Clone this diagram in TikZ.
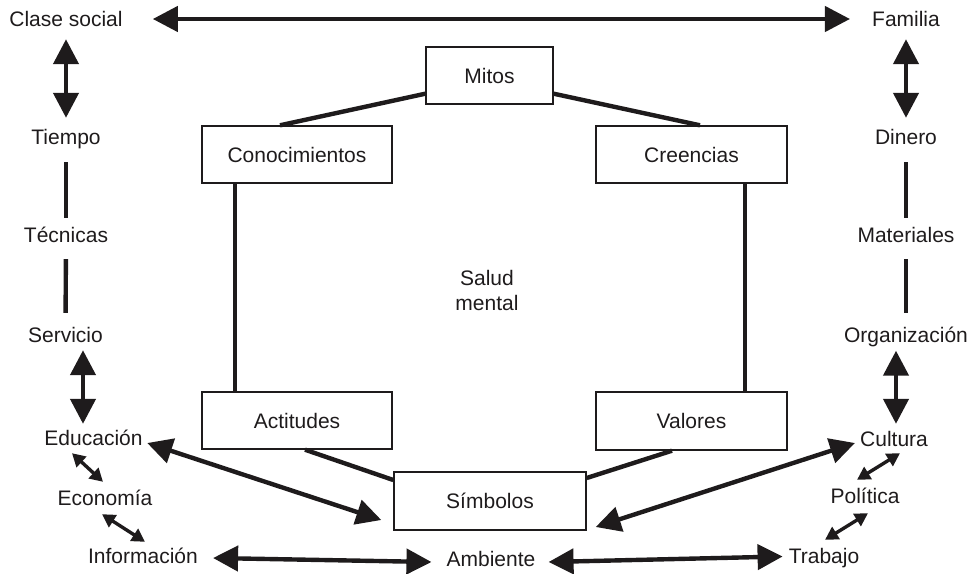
\documentclass[tikz,border=0pt]{standalone}
\usepackage{fontspec}
\setmainfont{Liberation Sans}
\usetikzlibrary{arrows.meta}
\definecolor{ink}{HTML}{1E1B1C}
\begin{document}
\begin{tikzpicture}[x=1pt,y=-1pt,
  lbl/.style={inner sep=0pt, text height=15pt, text depth=0pt, text=ink,
    font=\fontsize{21}{25}\selectfont},
  box/.style={lbl, draw=ink, line width=1.4pt, minimum width=190pt, minimum height=57pt},
  link/.style={draw=ink, line width=4.4pt},
  bigarrow/.style={link, {Triangle[length=25pt,width=25pt]}-{Triangle[length=25pt,width=25pt]}},
  smallarrow/.style={draw=ink, line width=3.4pt, {Triangle[length=13pt,width=14pt]}-{Triangle[length=13pt,width=14pt]}}
]
\useasboundingbox (0,0) rectangle (969,573);

% outer ring of factors, left column
\node[lbl] (clase)   at (66,19)    {Clase social};
\node[lbl] (tiempo)  at (66,136.5) {Tiempo};
\node[lbl] (tecnicas) at (66,235)  {Técnicas};
\node[lbl] (servicio) at (65.5,334.5) {Servicio};
\node[lbl] (educ)    at (93.5,438) {Educación};
\node[lbl] (econ)    at (105,498)  {Economía};
\node[lbl] (info)    at (143,556)  {Información};

% right column
\node[lbl] (familia) at (906,19)    {Familia};
\node[lbl] (dinero)  at (906,136.5) {Dinero};
\node[lbl] (mater)   at (906,235)   {Materiales};
\node[lbl] (org)     at (906,335)   {Organización};
\node[lbl] (cultura) at (894,438.5) {Cultura};
\node[lbl] (pol)     at (865,496)   {Política};
\node[lbl] (trabajo) at (824,555.5) {Trabajo};

% bottom
\node[lbl] (amb) at (491,559) {Ambiente};

% centre
\node[inner sep=0pt, anchor=north, align=center, text=ink,
  font=\fontsize{21}{25}\selectfont] (salud) at (487,270) {Salud\\mental};

% inner boxes
\node[box, minimum width=127pt] (mitos) at (489.5,75.5) {Mitos};
\node[box] (con) at (297,154.5)   {Conocimientos};
\node[box, minimum width=191pt] (cre) at (691.5,154.5) {Creencias};
\node[box] (act) at (297,420.5)   {Actitudes};
\node[box, minimum width=191pt, minimum height=58pt] (val) at (691.5,421) {Valores};
\node[box, minimum width=192pt, minimum height=58pt] (sim) at (490,501) {Símbolos};

% ring of boxes
\draw[link] ([yshift=11pt]mitos.south west) -- ([xshift=-17pt]con.north);
\draw[link] ([yshift=11pt]mitos.south east) -- ([xshift=8.5pt]cre.north);
\draw[link] ([xshift=-62pt]con.south) -- ([xshift=-62pt]act.north);
\draw[link] ([xshift=53.5pt]cre.south) -- ([xshift=53.5pt]val.north);
\draw[link] ([xshift=8pt]act.south) -- ([yshift=21pt]sim.west);
\draw[link] ([xshift=-19.5pt]val.south) -- ([yshift=23pt]sim.east);

% top
\draw[bigarrow, shorten <=30pt, shorten >=22pt] (clase) -- (familia);

% left column links
\draw[bigarrow, shorten <=12.5pt, shorten >=11pt] (clase) -- (tiempo);
\draw[link, shorten <=18pt, shorten >=9.5pt] (tiempo) -- (tecnicas);
\draw[link, shorten <=16.5pt, shorten >=14pt] (tecnicas) -- (servicio);
\draw[bigarrow] ([xshift=17.5pt,yshift=-8pt]servicio.south) -- ([xshift=-10.5pt,yshift=6.5pt]educ.north);
\draw[smallarrow] ([xshift=-21.5pt,yshift=-7.5pt]educ.south) -- ([xshift=-2pt,yshift=8.5pt]econ.north);
\draw[smallarrow] ([xshift=-3pt,yshift=-8.5pt]econ.south) -- ([xshift=2pt,yshift=6.5pt]info.north);

% right column links
\draw[bigarrow, shorten <=12.5pt, shorten >=11pt] (familia) -- (dinero);
\draw[link, shorten <=18pt, shorten >=9.5pt] (dinero) -- (mater);
\draw[link, shorten <=16.5pt, shorten >=14pt] (mater) -- (org);
\draw[bigarrow] ([xshift=-10pt,yshift=-8pt]org.south) -- ([xshift=2pt,yshift=7pt]cultura.north);
\draw[smallarrow] ([xshift=6pt,yshift=-7pt]cultura.south) -- ([xshift=-8pt,yshift=8.5pt]pol.north);
\draw[smallarrow] ([xshift=3pt,yshift=-9.5pt]pol.south) -- ([xshift=1pt,yshift=8pt]trabajo.north);

% links into the centre
\draw[bigarrow] ([xshift=4.5pt,yshift=-5pt]educ.east) -- ([xshift=-12pt,yshift=-19pt]sim.west);
\draw[bigarrow] ([xshift=-5pt,yshift=-4.5pt]cultura.west) -- ([xshift=9pt,yshift=-26pt]sim.east);

% bottom row
\draw[bigarrow] ([xshift=15pt,yshift=-2pt]info.east) -- ([xshift=-15pt,yshift=-3pt]amb.west);
\draw[bigarrow] ([xshift=13pt,yshift=-3pt]amb.east) -- ([xshift=-6pt,yshift=-1pt]trabajo.west);
\end{tikzpicture}
\end{document}
